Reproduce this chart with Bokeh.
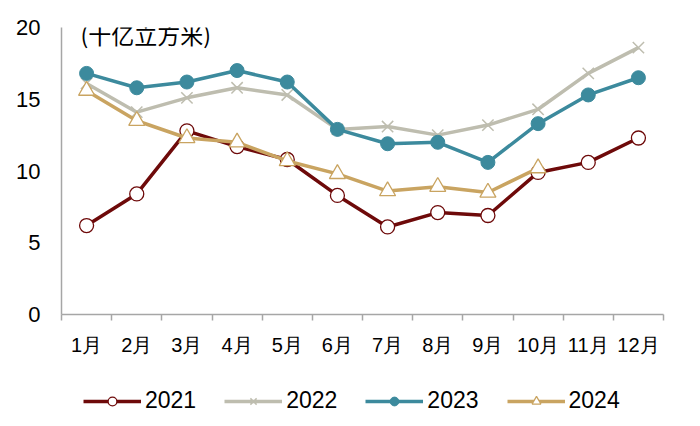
from bokeh.plotting import figure
from bokeh.layouts import column
from bokeh.models import Range1d, FixedTicker, Legend, LegendItem, Label
from bokeh.embed import file_html
from bokeh.resources import INLINE

months = ["1月", "2月", "3月", "4月", "5月", "6月", "7月", "8月", "9月", "10月", "11月", "12月"]
y2021 = [6.2, 8.4, 12.8, 11.7, 10.8, 8.3, 6.1, 7.1, 6.9, 9.9, 10.6, 12.3]
y2022 = [16.1, 14.1, 15.1, 15.8, 15.3, 12.9, 13.1, 12.5, 13.2, 14.3, 16.8, 18.6]
y2023 = [16.8, 15.8, 16.2, 17.0, 16.2, 12.9, 11.9, 12.0, 10.6, 13.3, 15.3, 16.5]
y2024 = [15.6, 13.5, 12.3, 12.0, 10.7, 9.8, 8.6, 8.9, 8.5, 10.2]
yticks = [0, 5, 10, 15, 20]
unit_label = "(十亿立方米)"
series_names = ["2021", "2022", "2023", "2024"]

xs = list(range(1, len(months) + 1))

FONT = "Liberation Sans"
c2021 = "#6E0A0A"
c2022 = "#BEBDAF"
c2023 = "#3C8A9D"
c2024 = "#C9A461"
LW = 3.5

styles = [
    dict(color=c2021, marker="circle", size=14, fill="white", mlw=1.3),
    dict(color=c2022, marker="x", size=16, fill=None, mlw=1.5),
    dict(color=c2023, marker="circle", size=14, fill=c2023, mlw=1.0),
    dict(color=c2024, marker="triangle", size=16, fill="white", mlw=1.3),
]
series = [y2021, y2022, y2023, y2024]

p = figure(width=684, height=370, output_backend="svg", toolbar_location=None,
           x_range=Range1d(0.5, len(months) + 0.5), y_range=Range1d(0, 20),
           min_border_left=61, min_border_right=21, min_border_top=27, min_border_bottom=56)
p.outline_line_color = None
p.grid.visible = False

# x axis
xa = p.xaxis[0]
xa.ticker = FixedTicker(ticks=xs, minor_ticks=[i + 0.5 for i in range(len(months) + 1)])
xa.major_label_overrides = {x: m for x, m in zip(xs, months)}
xa.major_tick_line_color = None
xa.major_tick_out = 0
xa.major_tick_in = 0
xa.minor_tick_line_color = "#A6A6A6"
xa.minor_tick_line_width = 1.5
xa.minor_tick_out = 6
xa.minor_tick_in = 0
xa.axis_line_color = "#A6A6A6"
xa.axis_line_width = 1.5
xa.major_label_text_font = FONT
xa.major_label_text_font_size = "20px"
xa.major_label_text_color = "#000000"
xa.major_label_standoff = 13

# y axis
ya = p.yaxis[0]
ya.ticker = FixedTicker(ticks=yticks, minor_ticks=[])
ya.major_tick_line_color = None
ya.minor_tick_line_color = None
ya.major_tick_out = 0
ya.major_tick_in = 0
ya.axis_line_color = "#A6A6A6"
ya.axis_line_width = 1.5
ya.major_label_text_font = FONT
ya.major_label_text_font_size = "22px"
ya.major_label_text_color = "#000000"
ya.major_label_standoff = 21

order = [1, 0, 2, 3]
for i in order:
    ys = series[i]
    st = styles[i]
    xx = xs[:len(ys)]
    p.line(xx, ys, line_color=st["color"], line_width=LW)
    p.scatter(xx, ys, marker=st["marker"], size=st["size"], line_color=st["color"],
              fill_color=st["fill"], line_width=st["mlw"])

title = Label(x=0.5, y=20, x_offset=19, y_offset=-6, text=unit_label,
              text_align="left", text_baseline="middle",
              text_font="Noto Sans CJK SC", text_font_size="23px", text_color="#000000")
p.add_layout(title)

# legend strip below (its own renderers sit outside its visible ranges)
q = figure(width=684, height=44, output_backend="svg", toolbar_location=None,
           x_axis_type=None, y_axis_type=None,
           x_range=Range1d(-100, -99), y_range=Range1d(-100, -99),
           min_border_left=0, min_border_right=0, min_border_top=0, min_border_bottom=0)
q.outline_line_color = None
q.grid.visible = False

items = []
for name, st, ys in zip(series_names, styles, series):
    xx = xs[:len(ys)]
    lr = q.line(xx, ys, line_color=st["color"], line_width=LW)
    mr = q.scatter(xx, ys, marker=st["marker"], size=st["size"], line_color=st["color"],
                   fill_color=st["fill"], line_width=st["mlw"])
    items.append(LegendItem(label=name, renderers=[lr, mr]))

legend = Legend(items=items, orientation="horizontal", location=(22, 0))
legend.border_line_color = None
legend.background_fill_alpha = 0
legend.padding = 0
legend.margin = 0
legend.spacing = 28
legend.glyph_width = 58
legend.glyph_height = 22
legend.label_standoff = 4
legend.label_text_font = FONT
legend.label_text_font_size = "23px"
legend.label_text_color = "#000000"
q.add_layout(legend, "center")

layout = column(p, q, spacing=0)
open("out.html", "w").write(file_html(layout, INLINE))
